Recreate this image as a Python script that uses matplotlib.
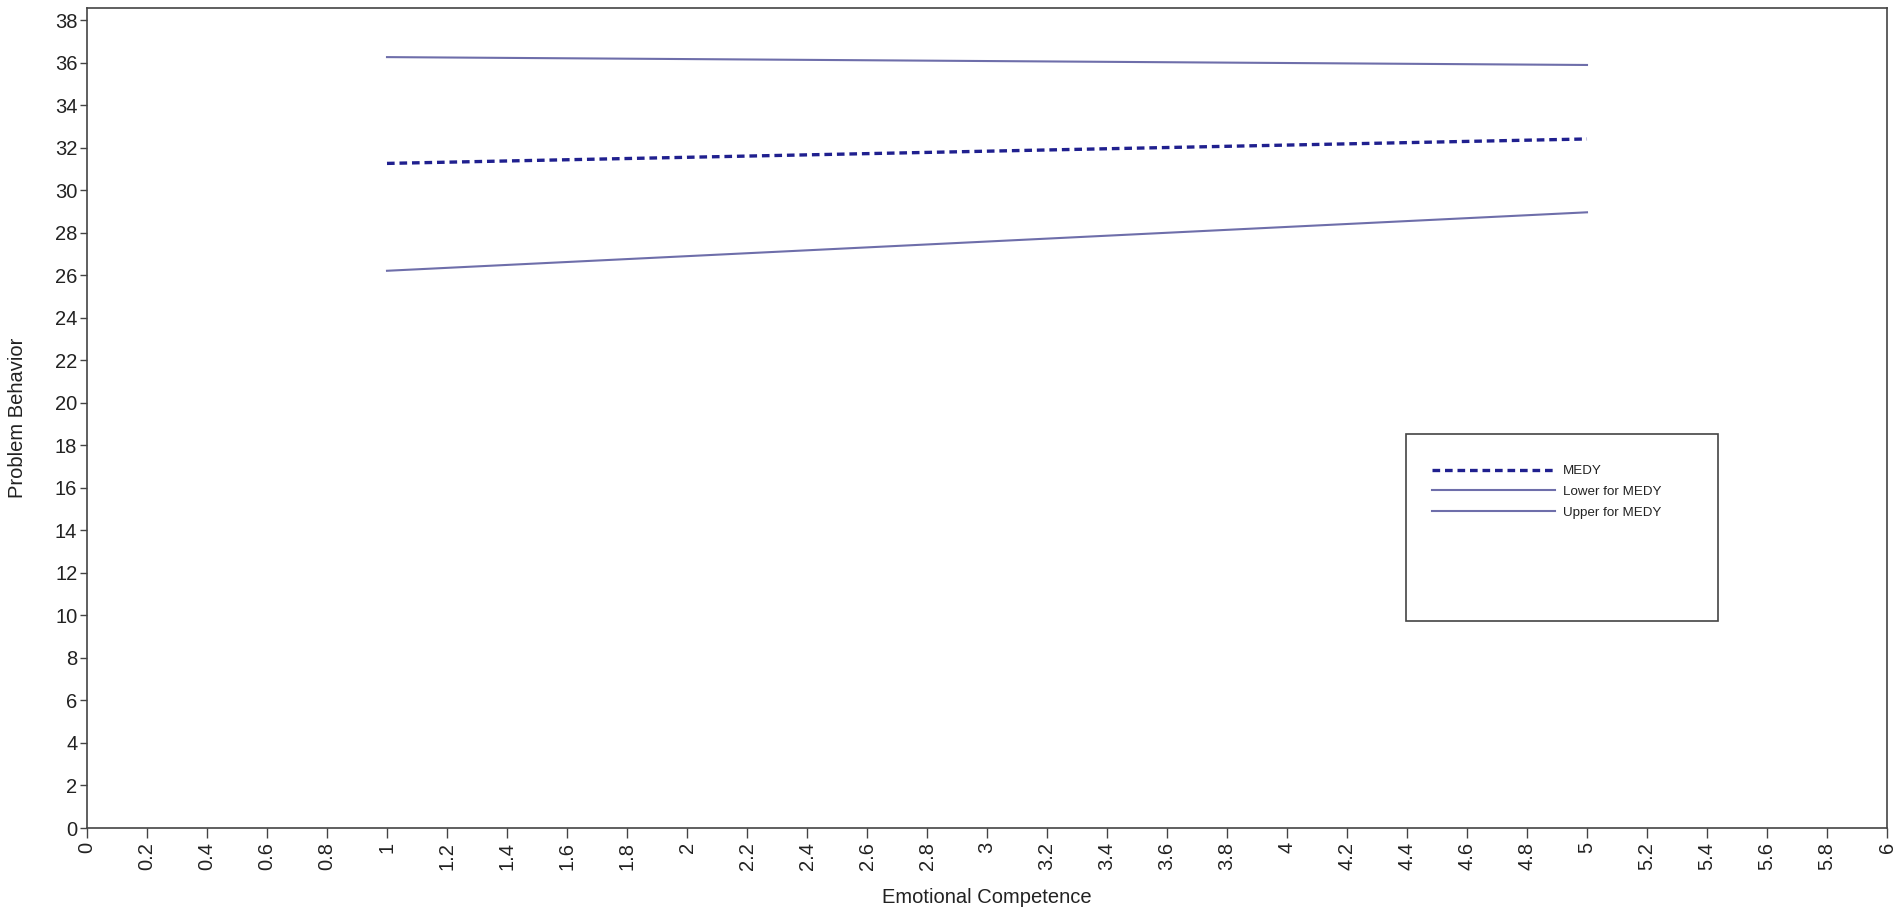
import matplotlib
matplotlib.use("Agg")
import matplotlib.pyplot as plt
from matplotlib.patches import Rectangle
import numpy as np

plt.rcParams['font.family'] = ['Liberation Sans', 'DejaVu Sans']
plt.rcParams['lines.scale_dashes'] = False

# Data
ec_x = [1, 5]
medy = [31.26, 32.41]
lower_medy = [26.21, 28.96]
upper_medy = [36.26, 35.89]

x_ticks = [0, 0.2, 0.4, 0.6, 0.8, 1, 1.2, 1.4, 1.6, 1.8, 2, 2.2, 2.4, 2.6, 2.8, 3,
           3.2, 3.4, 3.6, 3.8, 4, 4.2, 4.4, 4.6, 4.8, 5, 5.2, 5.4, 5.6, 5.8, 6]
x_labels = ['0', '0.2', '0.4', '0.6', '0.8', '1', '1.2', '1.4', '1.6', '1.8', '2', '2.2',
            '2.4', '2.6', '2.8', '3', '3.2', '3.4', '3.6', '3.8', '4', '4.2', '4.4', '4.6',
            '4.8', '5', '5.2', '5.4', '5.6', '5.8', '6']
y_ticks = list(range(0, 39, 2))

fig = plt.figure(figsize=(19.02, 9.18), dpi=100)
ax = fig.add_axes([87/1902, 90/918, 1800/1902, 820/918])

dash_col = '#20208f'
line_col = '#6e6eaa'

l1, = ax.plot(ec_x, medy, color=dash_col, lw=2.4, dashes=(5.5, 3.5), label='MEDY')
l2, = ax.plot(ec_x, lower_medy, color=line_col, lw=1.5, label='Lower for MEDY')
l3, = ax.plot(ec_x, upper_medy, color=line_col, lw=1.5, label='Upper for MEDY')

ax.set_xlim(0, 6)
ax.set_ylim(0, 38.57)
ax.set_xticks(x_ticks)
ax.set_xticklabels(x_labels, rotation=90, fontsize=14.5, color='#222222')
ax.set_yticks(y_ticks)
ax.set_yticklabels([str(v) for v in y_ticks], fontsize=14.5, color='#222222')
ax.tick_params(axis='x', direction='out', length=7, width=1, color='#444444', pad=3)
ax.tick_params(axis='y', direction='out', length=5, width=1, color='#444444', pad=2)
for s in ax.spines.values():
    s.set_color('#444444')
    s.set_linewidth(1.2)

ax.set_xlabel('Emotional Competence', fontsize=14.5, color='#222222', labelpad=13)
ax.set_ylabel('Problem Behavior', fontsize=14.5, color='#222222', labelpad=20)

# legend frame
rect = Rectangle((1406/1902, 1 - 621/918), 312/1902, 187/918, transform=fig.transFigure,
                 fill=False, edgecolor='#444444', linewidth=1.2)
fig.patches.append(rect)
leg = fig.legend(handles=[l1, l2, l3], loc='upper left',
                 bbox_to_anchor=(1432/1902, 1 - 465/918), bbox_transform=fig.transFigure,
                 frameon=False, fontsize=9.6, handlelength=9.2, handletextpad=0.6,
                 labelspacing=0.62, borderpad=0, borderaxespad=0)
for t in leg.get_texts():
    t.set_color('#222222')

fig.savefig('out.png', dpi=100, facecolor='white')
